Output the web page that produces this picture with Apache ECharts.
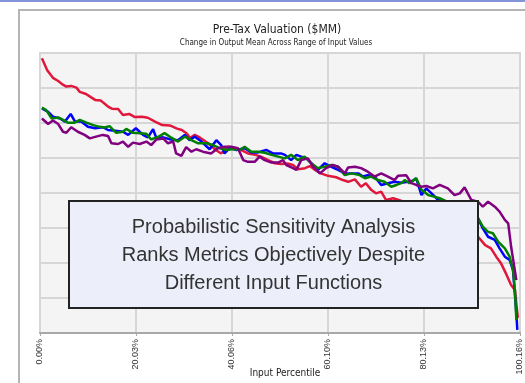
<!DOCTYPE html>
<html><head><meta charset="utf-8">
<script src="https://cdn.jsdelivr.net/npm/echarts@6/dist/echarts.min.js"></script>
<style>html,body{margin:0;padding:0;background:#fff}#c{width:525px;height:383px}</style>
</head><body><div id="c"></div>
<script>
// x = input percentile (%), y = output mean (relative units)
const redData = [[0.4,78.5],[1.5,75.1],[2.7,72.9],[3.8,72.0],[4.6,71.1],[5.5,70.4],[6.5,70.6],[7.6,70.1],[8.3,68.9],[9.6,68.3],[10.6,67.4],[11.5,66.6],[12.7,66.4],[14.2,64.7],[15.0,64.1],[16.3,64.0],[17.3,62.3],[18.6,62.6],[19.8,61.7],[21.3,61.8],[22.5,61.5],[24.0,60.4],[25.5,59.4],[27.1,59.3],[28.6,58.4],[29.6,58.0],[30.7,56.9],[31.3,55.7],[32.3,56.6],[33.4,55.8],[35.1,54.2],[36.7,52.3],[37.8,51.3],[39.2,53.2],[40.7,52.8],[41.9,52.3],[43.4,51.3],[44.9,50.9],[46.1,50.4],[47.6,49.4],[49.0,48.5],[50.3,48.3],[51.8,48.4],[52.8,48.0],[53.8,46.8],[55.3,47.1],[56.3,47.7],[57.4,46.6],[58.6,45.6],[60.1,44.9],[61.8,44.5],[63.2,43.7],[64.3,43.2],[65.7,43.9],[67.0,41.8],[68.0,42.8],[69.1,40.9],[70.1,39.9],[71.2,40.4],[72.2,38.0],[73.7,38.5],[75.3,37.8],[77.2,36.6],[79.3,35.1],[81.4,34.0],[83.5,32.9],[85.6,31.7],[87.6,30.6],[89.7,29.1],[91.4,27.5],[92.9,25.1],[94.1,24.2],[95.2,21.8],[96.2,19.9],[97.2,17.1],[98.3,13.7],[99.1,12.3],[99.7,4.3]];
const blueData = [[0.4,64.2],[1.7,63.2],[2.7,61.8],[4.2,61.3],[5.2,60.4],[6.4,62.6],[7.3,60.4],[8.6,60.4],[10.0,58.9],[11.5,58.5],[13.1,58.8],[14.2,58.0],[15.7,57.8],[17.3,57.5],[18.4,56.6],[20.0,58.5],[21.5,56.6],[22.5,55.9],[23.6,58.2],[24.3,55.6],[25.7,55.9],[27.3,55.3],[28.8,55.1],[30.2,56.6],[31.2,55.1],[32.3,56.1],[33.7,54.7],[35.4,52.5],[36.8,55.1],[37.8,53.7],[38.5,51.3],[39.6,52.9],[41.0,52.3],[42.7,52.8],[44.1,51.6],[45.5,51.6],[47.2,52.3],[48.6,51.3],[50.3,51.3],[51.1,50.9],[52.4,49.4],[53.5,50.9],[54.5,50.4],[55.6,49.9],[56.6,48.5],[58.0,46.6],[59.4,48.5],[60.8,47.5],[62.2,46.6],[63.6,45.6],[65.0,45.6],[66.4,45.6],[67.4,44.7],[68.4,45.1],[69.8,44.7],[71.2,42.3],[72.6,42.8],[74.0,43.2],[75.4,42.9],[76.8,43.2],[77.8,43.5],[78.5,44.2],[79.6,39.4],[80.6,41.3],[81.7,39.9],[83.1,38.0],[85.1,36.9],[87.2,35.7],[89.3,34.6],[91.4,32.8],[92.4,29.9],[93.5,27.5],[94.9,26.6],[95.9,24.2],[97.0,21.8],[98.0,20.9],[98.7,18.0],[99.4,5.6],[99.6,0.9]];
const greenData = [[0.4,64.4],[1.3,63.7],[2.4,61.3],[3.8,61.6],[4.8,60.9],[5.8,60.1],[7.2,60.1],[8.3,60.9],[9.7,60.1],[11.1,59.4],[12.5,58.9],[13.5,58.7],[14.5,59.1],[15.9,57.2],[17.3,57.5],[18.0,58.3],[19.4,57.2],[20.8,57.1],[22.2,56.9],[23.2,55.3],[24.6,56.0],[26.0,57.1],[27.4,55.8],[28.8,54.7],[30.2,56.1],[31.6,55.1],[33.0,54.2],[34.7,54.2],[36.1,53.7],[37.5,52.8],[38.9,52.3],[40.3,52.6],[41.7,52.3],[42.7,53.2],[44.1,51.8],[45.5,51.8],[46.9,51.5],[48.3,50.9],[49.7,50.4],[51.1,49.9],[52.4,50.9],[53.8,49.4],[55.2,50.4],[56.6,48.5],[58.0,47.1],[59.4,47.5],[60.8,48.0],[62.2,47.5],[63.6,45.1],[65.0,45.6],[66.7,45.1],[67.8,44.2],[69.1,44.7],[70.5,43.7],[71.9,43.2],[73.3,41.8],[74.4,42.3],[75.4,42.8],[76.1,43.7],[77.1,42.8],[78.5,44.2],[79.6,40.9],[81.0,39.4],[82.4,38.9],[83.4,38.5],[85.6,37.1],[87.6,36.0],[89.7,34.6],[91.4,32.8],[92.4,30.4],[93.5,28.9],[94.5,28.5],[95.6,26.1],[97.0,24.2],[98.0,21.8],[98.7,18.0],[99.1,12.3],[99.4,3.7]];
const purpleData = [[0.4,61.3],[1.7,59.7],[2.7,60.7],[3.8,59.7],[4.8,57.5],[5.5,57.2],[6.5,58.8],[7.9,57.5],[9.3,56.6],[10.4,55.6],[11.7,56.1],[13.1,56.6],[14.2,56.3],[14.9,54.2],[16.3,54.0],[17.3,54.7],[18.4,53.2],[19.4,54.4],[20.8,54.0],[22.2,54.7],[23.2,53.7],[24.3,55.3],[25.7,55.6],[26.7,54.2],[27.8,54.7],[28.4,51.3],[29.5,50.6],[30.5,53.1],[31.6,51.8],[32.6,52.5],[34.0,51.8],[35.7,51.3],[37.1,52.8],[38.5,53.2],[39.9,53.2],[41.3,52.8],[42.4,49.4],[43.4,48.9],[44.8,48.9],[45.8,50.4],[46.9,49.4],[48.3,48.7],[49.7,48.7],[50.7,49.4],[51.4,48.0],[52.8,47.1],[53.5,46.6],[54.5,49.4],[55.9,49.9],[57.0,47.5],[58.4,45.6],[59.7,47.1],[61.1,48.0],[62.2,47.5],[63.6,45.6],[64.3,47.3],[65.7,47.5],[67.0,47.1],[68.4,46.1],[69.8,44.7],[71.2,45.6],[72.6,44.7],[74.0,43.7],[74.7,44.9],[76.4,45.1],[77.5,42.8],[78.5,42.3],[79.6,41.8],[80.6,42.0],[82.0,41.3],[83.4,42.3],[85.1,41.3],[86.5,39.4],[87.6,39.9],[88.6,41.6],[90.0,38.0],[91.4,37.5],[92.4,36.1],[93.5,37.5],[94.9,36.1],[95.9,34.7],[97.0,32.3],[97.7,31.3],[98.3,24.7],[99.4,15.1]];
const xTickLabels = ['0.00%','20.03%','40.06%','60.10%','80.13%','100.16%'];
const titleText = 'Pre-Tax Valuation ($MM)';
const subtitleText = 'Change in Output Mean Across Range of Input Values';
const xAxisName = 'Input Percentile';
const boxLines = ['Probabilistic Sensitivity Analysis','Ranks Metrics Objectively Despite','Different Input Functions'];

const chart = echarts.init(document.getElementById('c'), null, {renderer:'canvas'});
const narrow = '"Liberation Sans Narrow","DejaVu Sans Condensed",sans-serif';
const gridCol = '#d6d6d6';
function mk(name, data, color){
  return {name, type:'line', data, showSymbol:false, symbol:'none', animation:false,
    lineStyle:{color, width:2.5}, itemStyle:{color}, z:3};
}
chart.setOption({
  animation:false,
  backgroundColor:'#fff',
  grid:{left:40, top:53, right:5, bottom:50, show:true, backgroundColor:'#f4f4f4', borderColor:gridCol, borderWidth:2},
  xAxis:{type:'value', min:0, max:100.16, interval:20.032,
    axisLine:{show:true, lineStyle:{color:'#a8a8a8', width:2}},
    axisTick:{show:true, length:3, lineStyle:{color:'#a8a8a8'}},
    splitLine:{show:true, lineStyle:{color:gridCol, width:2}},
    axisLabel:{rotate:90, margin:6, fontSize:9, color:'#333', fontFamily:'"Liberation Sans",Arial,sans-serif',
      formatter:(v)=>{const i=Math.round(v/20.032); return xTickLabels[i]||'';}}
  },
  yAxis:{type:'value', min:0, max:80, interval:10,
    axisLine:{show:true, lineStyle:{color:gridCol, width:2}},
    axisTick:{show:false}, axisLabel:{show:false},
    splitLine:{show:true, lineStyle:{color:gridCol, width:2}}
  },
  series:[mk('Red',redData,'#e0183c'), mk('Blue',blueData,'#0000ff'), mk('Green',greenData,'#008000'), mk('Purple',purpleData,'#800080')],
  graphic:[
    {type:'rect', z:-10, silent:true, shape:{x:0,y:0,width:525,height:2}, style:{fill:'#8394d8'}},
    {type:'rect', z:-10, silent:true, shape:{x:19,y:10,width:600,height:400}, style:{fill:'#fff', stroke:'#b4b4b4', lineWidth:2}},
    {type:'text', z:10, x:277, y:30, style:{text:titleText, font:'12px '+narrow, fill:'#222', align:'center', verticalAlign:'middle'}},
    {type:'text', z:10, x:276, y:43, style:{text:subtitleText, font:'8px '+narrow, fill:'#222', align:'center', verticalAlign:'middle'}},
    {type:'text', z:10, x:285, y:373, style:{text:xAxisName, font:'10px '+narrow, fill:'#222', align:'center', verticalAlign:'middle'}},
    {type:'rect', z:100, shape:{x:69,y:201,width:409,height:107}, style:{fill:'#eceefa', stroke:'#222', lineWidth:2}},
    {type:'text', z:101, x:273.5, y:227, style:{text:boxLines[0], font:'20px "Liberation Sans",Arial,sans-serif', fill:'#333', align:'center', verticalAlign:'middle'}},
    {type:'text', z:101, x:273.5, y:255, style:{text:boxLines[1], font:'20px "Liberation Sans",Arial,sans-serif', fill:'#333', align:'center', verticalAlign:'middle'}},
    {type:'text', z:101, x:273.5, y:283, style:{text:boxLines[2], font:'20px "Liberation Sans",Arial,sans-serif', fill:'#333', align:'center', verticalAlign:'middle'}}
  ]
});
</script></body></html>
